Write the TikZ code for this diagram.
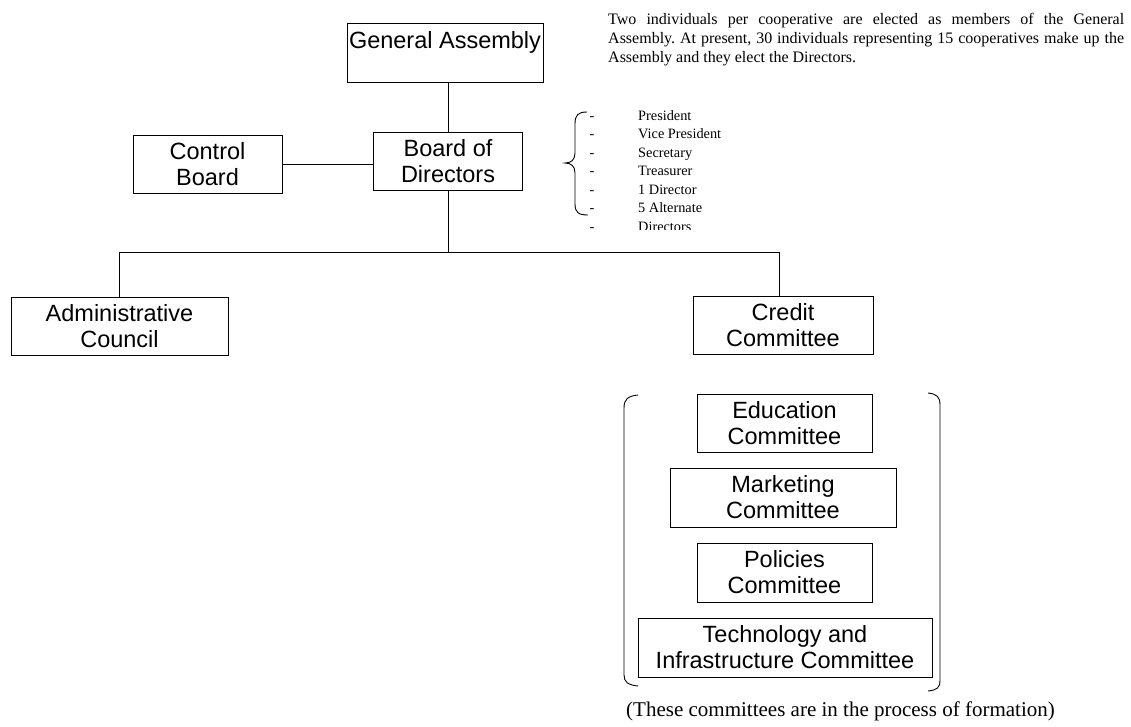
\documentclass[tikz,border=0pt]{standalone}
\usepackage{fontspec}
\setmainfont{Liberation Serif}
\newfontfamily\boxfont{Liberation Sans}
\begin{document}
\begin{tikzpicture}[x=1pt,y=-1pt,
  unit/.style={draw,line width=0.9pt,inner sep=0pt,align=center,
    font=\boxfont\fontsize{23.5}{26}\selectfont},
  link/.style={line width=0.9pt},
  brk/.style={line width=0.9pt},
  listtxt/.style={inner sep=0pt,font=\fontsize{14.3}{18}\selectfont}
]
\useasboundingbox (0,0) rectangle (1131,726);

% governing bodies
\node[unit,minimum width=196pt,minimum height=59pt] (ga) at (445,52.5) {General Assembly\\\mbox{}};
\node[unit,minimum width=149pt,minimum height=58pt] (bod) at (448,161) {Board of\\Directors};
\node[unit,minimum width=149pt,minimum height=58pt] (cb) at (207.5,164) {Control\\Board};
\node[unit,minimum width=217pt,minimum height=58pt] (admin) at (119.5,326) {Administrative\\Council};
\node[unit,minimum width=180pt,minimum height=58pt] (credit) at (783,325) {Credit\\Committee};

% committees being formed
\node[unit,minimum width=175pt,minimum height=58pt] (edu) at (784.5,423) {Education\\Committee};
\node[unit,minimum width=226pt,minimum height=59pt] (mkt) at (783,497.5) {Marketing\\Committee};
\node[unit,minimum width=175pt,minimum height=59pt] (pol) at (784.5,572.5) {Policies\\Committee};
\node[unit,minimum width=294pt,minimum height=59pt] (tech) at (785,647.5) {Technology and\\Infrastructure Committee};

% connectors
\coordinate (hub) at (448,252);
\coordinate (rightdrop) at (779,252);
\draw[link] (bod.north) -- (bod.north |- ga.south);
\draw[link] (cb.east) -- (cb.east -| bod.west);
\draw[link] (bod.south) -- (hub);
\draw[link] (admin.north) -- (admin.north |- hub) -- (rightdrop) -- (rightdrop |- credit.north);

% note on the General Assembly
\node[inner sep=0pt,anchor=base west] (about) at (608,24)
  {\parbox[t]{516pt}{\fontsize{16}{19}\selectfont\sloppy\frenchspacing
   Two individuals per cooperative are elected as members of the General\linebreak
   Assembly. At present, 30 individuals representing 15 cooperatives make up the\linebreak
   Assembly and they elect the Directors.}};

% officers of the board
\draw[brk] (587,112) .. controls (578,112) and (575,115) .. (575,124)
  -- (575,153) .. controls (575,160) and (571,163) .. (565,163)
  .. controls (571,163) and (575,166) .. (575,173)
  -- (575,204) .. controls (575,212) and (578,215) .. (588,215);
\begin{scope}
  \clip (580,100) rectangle (780,229);
  \foreach \t [count=\i] in {President,Vice President,Secretary,Treasurer,1 Director,5 Alternate,Directors}{
    \node[listtxt,anchor=base] (dash\i) at (592,{101.5+18.5*\i}) {-};
    \node[listtxt,anchor=base west] (item\i) at (638,{101.5+18.5*\i}) {\t};
  }
\end{scope}

% bracket around the committees
\draw[brk] (638,395) .. controls (628,396) and (624,399) .. (624,408)
  -- (624,675) .. controls (624,682) and (628,685) .. (638,686);
\draw[brk] (928,393) .. controls (937,394) and (940,397) .. (940,405)
  -- (940,680) .. controls (940,688) and (937,690) .. (928,691);

\node[inner sep=0pt,anchor=base west,font=\fontsize{21}{25}\selectfont] (caption) at (626,716)
  {(These committees are in the process of formation)};
\end{tikzpicture}
\end{document}
